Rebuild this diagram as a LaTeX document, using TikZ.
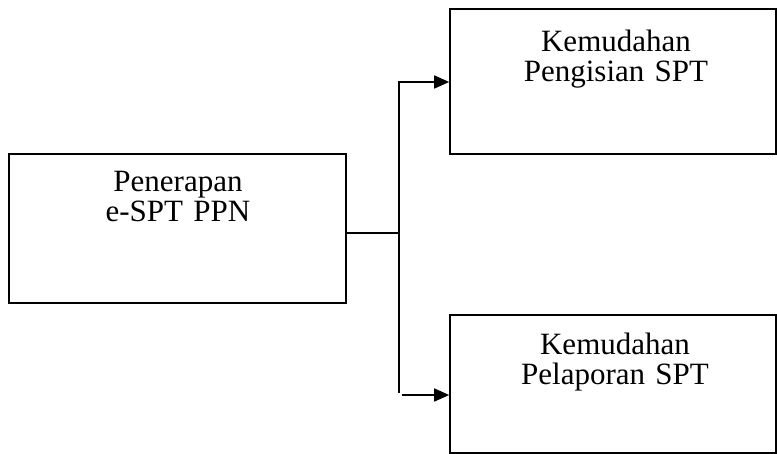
\documentclass[tikz,border=0pt]{standalone}
\usepackage{fontspec}
\setmainfont{Liberation Serif}
\usetikzlibrary{arrows.meta}
\begin{document}
\begin{tikzpicture}[x=1pt,y=-1pt,
  box/.style={draw=black, line width=1.6pt, inner sep=0pt},
  label/.style={anchor=base, inner sep=0pt, text width=320pt, align=center,
    font=\fontsize{31pt}{30pt}\selectfont,
    execute at begin node={\baselineskip=30pt\lineskiplimit=-20pt}},
  link/.style={draw=black, line width=1.6pt},
  arr/.style={link, -{Triangle[length=15pt,width=13pt]}}]
  \useasboundingbox (0,0) rectangle (777,454);
  % boxes
  \node[box, minimum width=337pt, minimum height=149pt] (src) at (177.5,228.5) {};
  \node[box, minimum width=326pt, minimum height=145pt] (top) at (613,81.5) {};
  \node[box, minimum width=326pt, minimum height=138pt] (bot) at (613,384) {};
  % texts
  \node[label] (srct) at (178,191.7) {Penerapan\\e-SPT PPN};
  \node[label] (topt) at (616,51.7) {Kemudahan\\Pengisian SPT};
  \node[label] (bott) at (615,355) {Kemudahan\\Pelaporan SPT};
  % connectors
  \coordinate (j) at (399,233);
  \coordinate (jtop) at (399,82);
  \coordinate (jbot) at (399,393);
  \coordinate (bstart) at (402,395);
  \coordinate (bin) at (bot.west |- bstart);
  \draw[link] (src.east |- j) -- (j);
  \draw[arr] (jbot) -- (jtop) -- (top.west |- jtop);
  \draw[arr] (bstart) -- (bin);
\end{tikzpicture}
\end{document}
